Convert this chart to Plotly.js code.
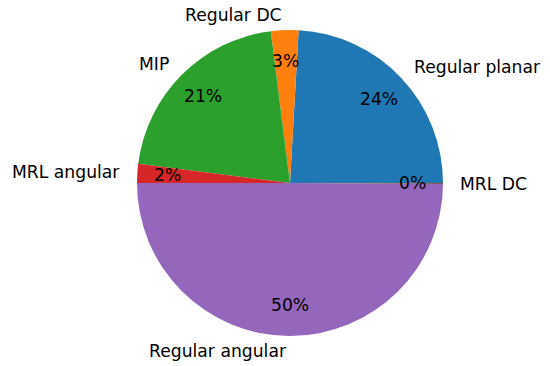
<!DOCTYPE html>
<html>
<head>
<meta charset="utf-8">
<script src="https://cdn.plot.ly/plotly-3.0.1.min.js"></script>
<style>
  html, body { margin: 0; padding: 0; background: #fff; }
</style>
</head>
<body>
<div id="share-pie" style="width: 550px; height: 366px;"></div>
<script>
    // Slices in drawing order (counterclockwise from 3 o'clock)
    const labels = ['Regular planar', 'Regular DC', 'MIP', 'MRL angular', 'Regular angular', 'MRL DC'];
    const values = [24.1, 2.9, 21.0, 2.0, 49.9, 0.1];
    const colors = ['#1f77b4', '#ff7f0e', '#2ca02c', '#d62728', '#9467bd', '#8c564b'];

    const W = 550, H = 366;
    // pie centre and radius in pixels
    const cx = 290, cy = 183, R = 153;

    const total = values.reduce((a, b) => a + b, 0);
    const font = { family: 'DejaVu Sans', size: 17.2, color: '#000' };

    const annotations = [];
    let start = 0;
    values.forEach((v, i) => {
        const frac = v / total;
        const mid = (start + frac / 2) * 2 * Math.PI;
        start += frac;
        const c = Math.cos(mid), s = Math.sin(mid);
        // label outside at 1.1 r
        annotations.push({
            x: (cx + 1.1 * R * c) / W,
            y: (H - (cy - 1.1 * R * s)) / H,
            xref: 'paper', yref: 'paper',
            text: labels[i],
            showarrow: false,
            xanchor: c > 0 ? 'left' : 'right',
            yanchor: 'middle',
            font: font
        });
        // percentage inside at 0.8 r
        annotations.push({
            x: (cx + 0.8 * R * c) / W,
            y: (H - (cy - 0.8 * R * s)) / H,
            xref: 'paper', yref: 'paper',
            text: Math.round(frac * 100) + '%',
            showarrow: false,
            xanchor: 'center',
            yanchor: 'middle',
            font: font
        });
    });

    // plotly puts the first ccw slice clockwise of `rotation`, so shift it
    const rot = 90 - values[0] / total * 360;

    const trace = {
        type: 'pie',
        labels: labels,
        values: values,
        sort: false,
        direction: 'counterclockwise',
        rotation: rot,
        textinfo: 'none',
        hoverinfo: 'skip',
        marker: { colors: colors, line: { width: 0 } },
        domain: {
            x: [(cx - R) / W, (cx + R) / W],
            y: [(H - cy - R) / H, (H - cy + R) / H]
        }
    };

    const layout = {
        width: W,
        height: H,
        margin: { l: 0, r: 0, t: 0, b: 0 },
        showlegend: false,
        paper_bgcolor: '#fff',
        annotations: annotations
    };

    Plotly.newPlot('share-pie', [trace], layout, { displayModeBar: false, staticPlot: true });
</script>
</body>
</html>
